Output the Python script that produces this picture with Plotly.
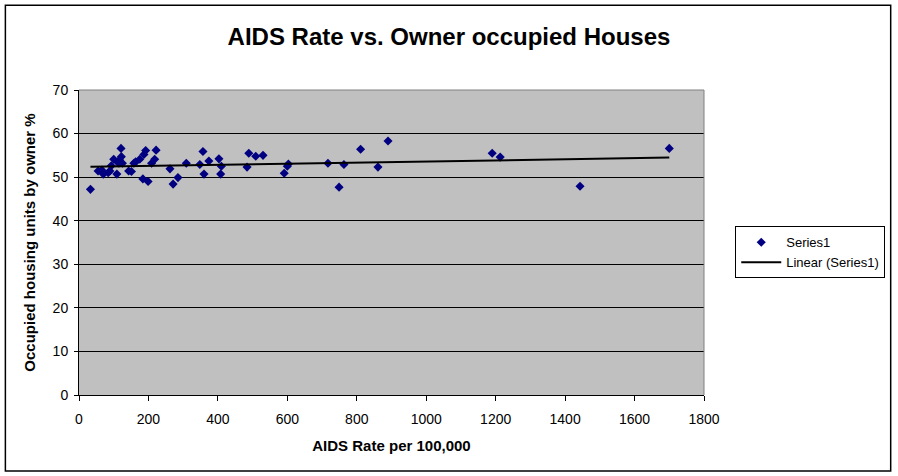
import numpy as np
import plotly.graph_objects as go

# AIDS rate per 100,000 (x) and owner-occupied housing % (y)
aids_rate = [33, 55, 66, 70, 84, 89, 93, 100, 109, 111,
             117, 121, 122, 125, 115, 143, 151, 158, 163, 175,
             184, 187, 192, 199, 209, 218, 222, 262, 271, 285,
             309, 348, 357, 360, 374, 403, 410, 408, 484, 489,
             509, 530, 591, 600, 603, 717, 749, 763, 811, 861,
             890, 1190, 1213, 1443, 1700]
owner_pct = [47.2, 51.4, 51.6, 50.7, 51.0, 51.4, 52.6, 54.1, 50.7, 53.5,
             53.9, 56.6, 54.7, 53.2, 53.2, 51.4, 51.3, 53.2, 53.5, 54.1,
             49.6, 55.2, 56.1, 49.0, 53.2, 54.1, 56.2, 51.9, 48.4, 49.9,
             53.2, 52.9, 55.9, 50.7, 53.7, 54.2, 52.5, 50.7, 52.3, 55.5,
             54.8, 55.0, 50.9, 52.5, 53.0, 53.2, 47.7, 52.9, 56.4, 52.3,
             58.3, 55.5, 54.6, 47.9, 56.6]

x_ticks = [0, 200, 400, 600, 800, 1000, 1200, 1400, 1600, 1800]
y_ticks = [0, 10, 20, 30, 40, 50, 60, 70]

FONT = "Arial, Liberation Sans, sans-serif"

# linear trendline (Excel style: from min x to max x)
slope, icpt = np.polyfit(aids_rate, owner_pct, 1)
trend_x = [min(aids_rate), max(aids_rate)]
trend_y = [slope * v + icpt for v in trend_x]

fig = go.Figure()
fig.add_trace(go.Scatter(
    x=aids_rate, y=owner_pct, mode="markers", name="Series1",
    marker=dict(symbol="diamond", size=7, color="#000080", line=dict(width=0)),
))
fig.add_trace(go.Scatter(
    x=trend_x, y=trend_y, mode="lines", name="Linear (Series1)",
    line=dict(color="black", width=2),
))

# gray border on top/right of the plot area
fig.add_shape(type="line", xref="paper", yref="paper", x0=0, y0=1, x1=1, y1=1,
              line=dict(color="#808080", width=1), layer="above")
fig.add_shape(type="line", xref="paper", yref="paper", x0=1, y0=0, x1=1, y1=1,
              line=dict(color="#808080", width=1), layer="above")
# outer chart border
fig.add_shape(type="rect", xref="paper", yref="paper",
              x0=-0.1178, y0=-0.2492, x1=1.2987, y1=1.2777,
              line=dict(color="black", width=1.5), layer="above")

fig.update_layout(
    width=898, height=476,
    margin=dict(l=79, r=194, t=90, b=81),
    paper_bgcolor="white",
    plot_bgcolor="#C0C0C0",
    font=dict(family=FONT, size=14, color="black"),
    title=dict(text="<b>AIDS Rate vs. Owner occupied Houses</b>",
               x=0.5, xanchor="center", y=1 - 37 / 476, yanchor="middle",
               font=dict(family=FONT, size=24, color="black")),
    legend=dict(x=1.05, y=0.553, xanchor="left", yanchor="top",
                bgcolor="white", bordercolor="black", borderwidth=1,
                font=dict(family=FONT, size=13, color="black"),
                tracegroupgap=0, itemwidth=40),
    showlegend=True,
)
fig.update_xaxes(
    range=[0, 1800], tickvals=x_ticks, ticktext=[str(v) for v in x_ticks],
    showgrid=False, zeroline=False,
    showline=True, linecolor="black", linewidth=1,
    ticks="outside", ticklen=5, tickcolor="black", ticklabelstandoff=6,
    title=dict(text="<b>AIDS Rate per 100,000</b>", standoff=14,
               font=dict(family=FONT, size=15)),
)
fig.update_yaxes(
    range=[0, 70], tickvals=y_ticks, ticktext=[str(v) for v in y_ticks],
    showgrid=True, gridcolor="black", gridwidth=1, zeroline=False,
    showline=True, linecolor="black", linewidth=1,
    ticks="outside", ticklen=4, tickcolor="black", ticklabelstandoff=3,
    title=dict(text="<b>Occupied housing units by owner %</b>", standoff=13,
               font=dict(family=FONT, size=15)),
)

# drop the page's default body margin so the figure sits at the window origin
fig.write_html("out.html", config={"displayModeBar": False},
               post_script="document.body.style.margin='0';")
